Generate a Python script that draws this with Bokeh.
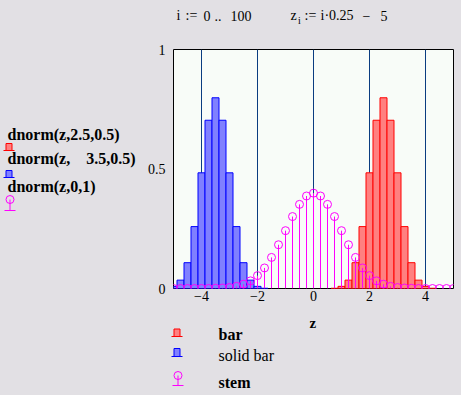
import numpy as np
from bokeh.plotting import figure
from bokeh.layouts import column, row
from bokeh.models import (ColumnDataSource, Range1d, FixedTicker, Label, CDSView, BooleanFilter)
from bokeh.embed import file_html
from bokeh.resources import INLINE

# ---------------- data ----------------
z = [-5.0, -4.75, -4.5, -4.25, -4.0, -3.75, -3.5, -3.25, -3.0, -2.75,
     -2.5, -2.25, -2.0, -1.75, -1.5, -1.25, -1.0, -0.75, -0.5, -0.25,
     0.0, 0.25, 0.5, 0.75, 1.0, 1.25, 1.5, 1.75, 2.0, 2.25,
     2.5, 2.75, 3.0, 3.25, 3.5, 3.75, 4.0, 4.25, 4.5, 4.75, 5.0]

# dnorm(z, 2.5, 0.5)  -> "bar"
bar_red = [0, 0, 0, 0, 0, 0, 0, 0, 0, 0,
           0, 0, 0, 0, 0, 0, 0, 0, 0, 0,
           0, 0, 0, 0.001, 0.009, 0.035, 0.108, 0.259, 0.484, 0.704,
           0.798, 0.704, 0.484, 0.259, 0.108, 0.035, 0.009, 0.001, 0, 0, 0]

# dnorm(z, -3.5, 0.5) -> "solid bar"
bar_blue = [0.009, 0.035, 0.108, 0.259, 0.484, 0.704, 0.798, 0.704, 0.484, 0.259,
            0.108, 0.035, 0.009, 0.001, 0, 0, 0, 0, 0, 0,
            0, 0, 0, 0, 0, 0, 0, 0, 0, 0,
            0, 0, 0, 0, 0, 0, 0, 0, 0, 0, 0]

# dnorm(z, 0, 1) -> "stem"
stem_norm = [0, 0, 0, 0, 0, 0, 0.001, 0.002, 0.004, 0.009,
             0.018, 0.032, 0.054, 0.086, 0.130, 0.183, 0.242, 0.301, 0.352, 0.387,
             0.399, 0.387, 0.352, 0.301, 0.242, 0.183, 0.130, 0.086, 0.054, 0.032,
             0.018, 0.009, 0.004, 0.002, 0.001, 0, 0, 0, 0, 0, 0]

x_ticks = [-4, -2, 0, 2, 4]
x_tick_labels = ["\u22124", "\u22122", "0", "2", "4"]
y_ticks = [0, 0.5, 1]
y_tick_labels = ["0", "0.5", "1"]
x_axis_title = "z"

trace_labels = ["dnorm(z,2.5,0.5)", "dnorm(z,\u00a0\u00a0\u00a0\u00a03.5,0.5)", "dnorm(z,0,1)"]
legend_names = ["bar", "solid bar", "stem"]

# ---------------- styling ----------------
BG = "#e2e0e4"
PLOT_BG = "#f8fcf8"
RED_FILL, RED_LINE = "#ff8080", "#ff0000"
BLUE_FILL, BLUE_LINE = "#8080ff", "#0000ff"
MAGENTA = "#ff00ff"
GRID = "#0a3c80"
SERIF = "Liberation Serif"

W, H = 461, 395
HEAD_H = 36
MID_H = 276
LEFT_W = 140
LEG_H = H - HEAD_H - MID_H
FRAME_TOP, FRAME_BOTTOM = 49, 288          # page pixels of the plot frame
FRAME_LEFT, FRAME_RIGHT = 173, 453


def aux_figure(w, h, y_top, y_bottom, border_top=0, border_bottom=0):
    """A decoration canvas whose coordinates are page pixels (y grows downward)."""
    f = figure(width=w, height=h, x_range=Range1d(0, w), y_range=Range1d(y_bottom, y_top),
               output_backend="svg", toolbar_location=None,
               min_border_left=0, min_border_right=0,
               min_border_top=border_top, min_border_bottom=border_bottom,
               x_axis_type=None, y_axis_type=None, styles={"background-color": BG})
    f.background_fill_color = BG
    f.border_fill_color = BG
    f.outline_line_color = None
    f.grid.visible = False
    return f


def add_text(f, text, x, y, size="14px", style="normal"):
    f.add_layout(Label(x=x, y=y, text=text, text_font=SERIF, text_font_size=size,
                       text_font_style=style, text_baseline="middle", text_align="left",
                       text_color="black"))


def bar_icon(f, x, y_top, y_bot, fill, line):
    f.quad(left=[x + 2.5], right=[x + 8.5], top=[y_top], bottom=[y_bot],
           fill_color=fill, line_color=line, line_width=1)
    f.segment(x0=[x], y0=[y_bot], x1=[x + 11], y1=[y_bot], line_color=line, line_width=1)


def stem_icon(f, x, y_c, y_base):
    f.segment(x0=[x + 5.5], y0=[y_c], x1=[x + 5.5], y1=[y_base], line_color=MAGENTA, line_width=1)
    f.segment(x0=[x], y0=[y_base], x1=[x + 11], y1=[y_base], line_color=MAGENTA, line_width=1)
    f.scatter(x=[x + 5.5], y=[y_c], marker="circle", size=8, fill_color=None,
              line_color=MAGENTA, line_width=1)


# ---------------- header: i := 0 .. 100    z_i := i*0.25 - 5 ----------------
head = aux_figure(W, HEAD_H, 0, HEAD_H)
add_text(head, "i", 176, 15)
add_text(head, ":=", 185, 15)
add_text(head, "0", 203, 15)
add_text(head, "..", 214, 15)
add_text(head, "100", 230, 15)
add_text(head, "z", 290, 15)
add_text(head, "i", 297.5, 20, "10px")
add_text(head, ":=", 304, 15)
add_text(head, "i\u00b70.25", 320, 15)
add_text(head, "\u2212", 362, 15)
add_text(head, "5", 380, 15)

# ---------------- left trace labels (frame aligned with the plot frame) ----------------
left = aux_figure(LEFT_W, MID_H, FRAME_TOP, FRAME_BOTTOM,
                  border_top=FRAME_TOP - HEAD_H, border_bottom=HEAD_H + MID_H - FRAME_BOTTOM)
add_text(left, trace_labels[0], 7, 134, "16px", "bold")
bar_icon(left, 3, 143, 150, RED_FILL, RED_LINE)
add_text(left, trace_labels[1], 7, 158, "16px", "bold")
bar_icon(left, 3, 170, 177, BLUE_FILL, BLUE_LINE)
add_text(left, trace_labels[2], 7, 186, "16px", "bold")
stem_icon(left, 4, 199, 210)

# ---------------- main plot ----------------
fig = figure(width=W - LEFT_W, height=MID_H, x_range=Range1d(-5, 5), y_range=Range1d(0, 1),
             output_backend="svg", toolbar_location=None,
             min_border_left=FRAME_LEFT - LEFT_W, min_border_right=W - FRAME_RIGHT,
             min_border_top=FRAME_TOP - HEAD_H, min_border_bottom=HEAD_H + MID_H - FRAME_BOTTOM,
             styles={"background-color": BG})
fig.background_fill_color = PLOT_BG
fig.border_fill_color = BG
fig.outline_line_color = "black"
fig.outline_line_width = 1

src = ColumnDataSource(dict(z=z, red=bar_red, blue=bar_blue, stem=stem_norm))
red_view = CDSView(filter=BooleanFilter([v > 0 for v in bar_red]))
blue_view = CDSView(filter=BooleanFilter([v > 0 for v in bar_blue]))

fig.vbar(x="z", top="red", bottom=0, width=0.25, source=src, view=red_view,
         fill_color=RED_FILL, line_color=RED_LINE, line_width=1)
fig.vbar(x="z", top="blue", bottom=0, width=0.25, source=src, view=blue_view,
         fill_color=BLUE_FILL, line_color=BLUE_LINE, line_width=1)
fig.segment(x0="z", y0=0, x1="z", y1="stem", source=src, line_color=MAGENTA, line_width=1)
fig.scatter(x="z", y="stem", source=src, marker="circle", size=8,
            fill_color=None, line_color=MAGENTA, line_width=1)

fig.ygrid.grid_line_color = None
fig.xgrid.ticker = FixedTicker(ticks=x_ticks)
fig.xgrid.grid_line_color = GRID
fig.xgrid.grid_line_width = 1

for ax in (fig.xaxis[0], fig.yaxis[0]):
    ax.axis_line_color = None
    ax.major_tick_line_color = None
    ax.minor_tick_line_color = None
    ax.major_tick_out = 0
    ax.major_tick_in = 0
    ax.major_label_text_font = SERIF
    ax.major_label_text_font_size = "14px"
    ax.major_label_text_color = "black"

fig.xaxis.ticker = FixedTicker(ticks=x_ticks)
fig.xaxis.major_label_overrides = {t: l for t, l in zip(x_ticks, x_tick_labels)}
fig.xaxis.major_label_standoff = 2

fig.yaxis.ticker = FixedTicker(ticks=y_ticks)
fig.yaxis.major_label_overrides = {t: l for t, l in zip(y_ticks, y_tick_labels)}
fig.yaxis.major_label_standoff = 8

# ---------------- below the plot: axis title and legend ----------------
leg = aux_figure(W, LEG_H, HEAD_H + MID_H, H)
add_text(leg, x_axis_title, 309, 322, "15px", "bold")
bar_icon(leg, 171, 328.5, 336, RED_FILL, RED_LINE)
add_text(leg, legend_names[0], 218, 334, "16px", "bold")
bar_icon(leg, 171, 348, 356, BLUE_FILL, BLUE_LINE)
add_text(leg, legend_names[1], 218, 355, "16px", "normal")
stem_icon(leg, 172, 375, 385)
add_text(leg, legend_names[2], 218, 382, "16px", "bold")

p = column(head, row(left, fig, styles={"background-color": BG}), leg,
           styles={"background-color": BG})

open("out.html", "w").write(file_html(p, INLINE))
